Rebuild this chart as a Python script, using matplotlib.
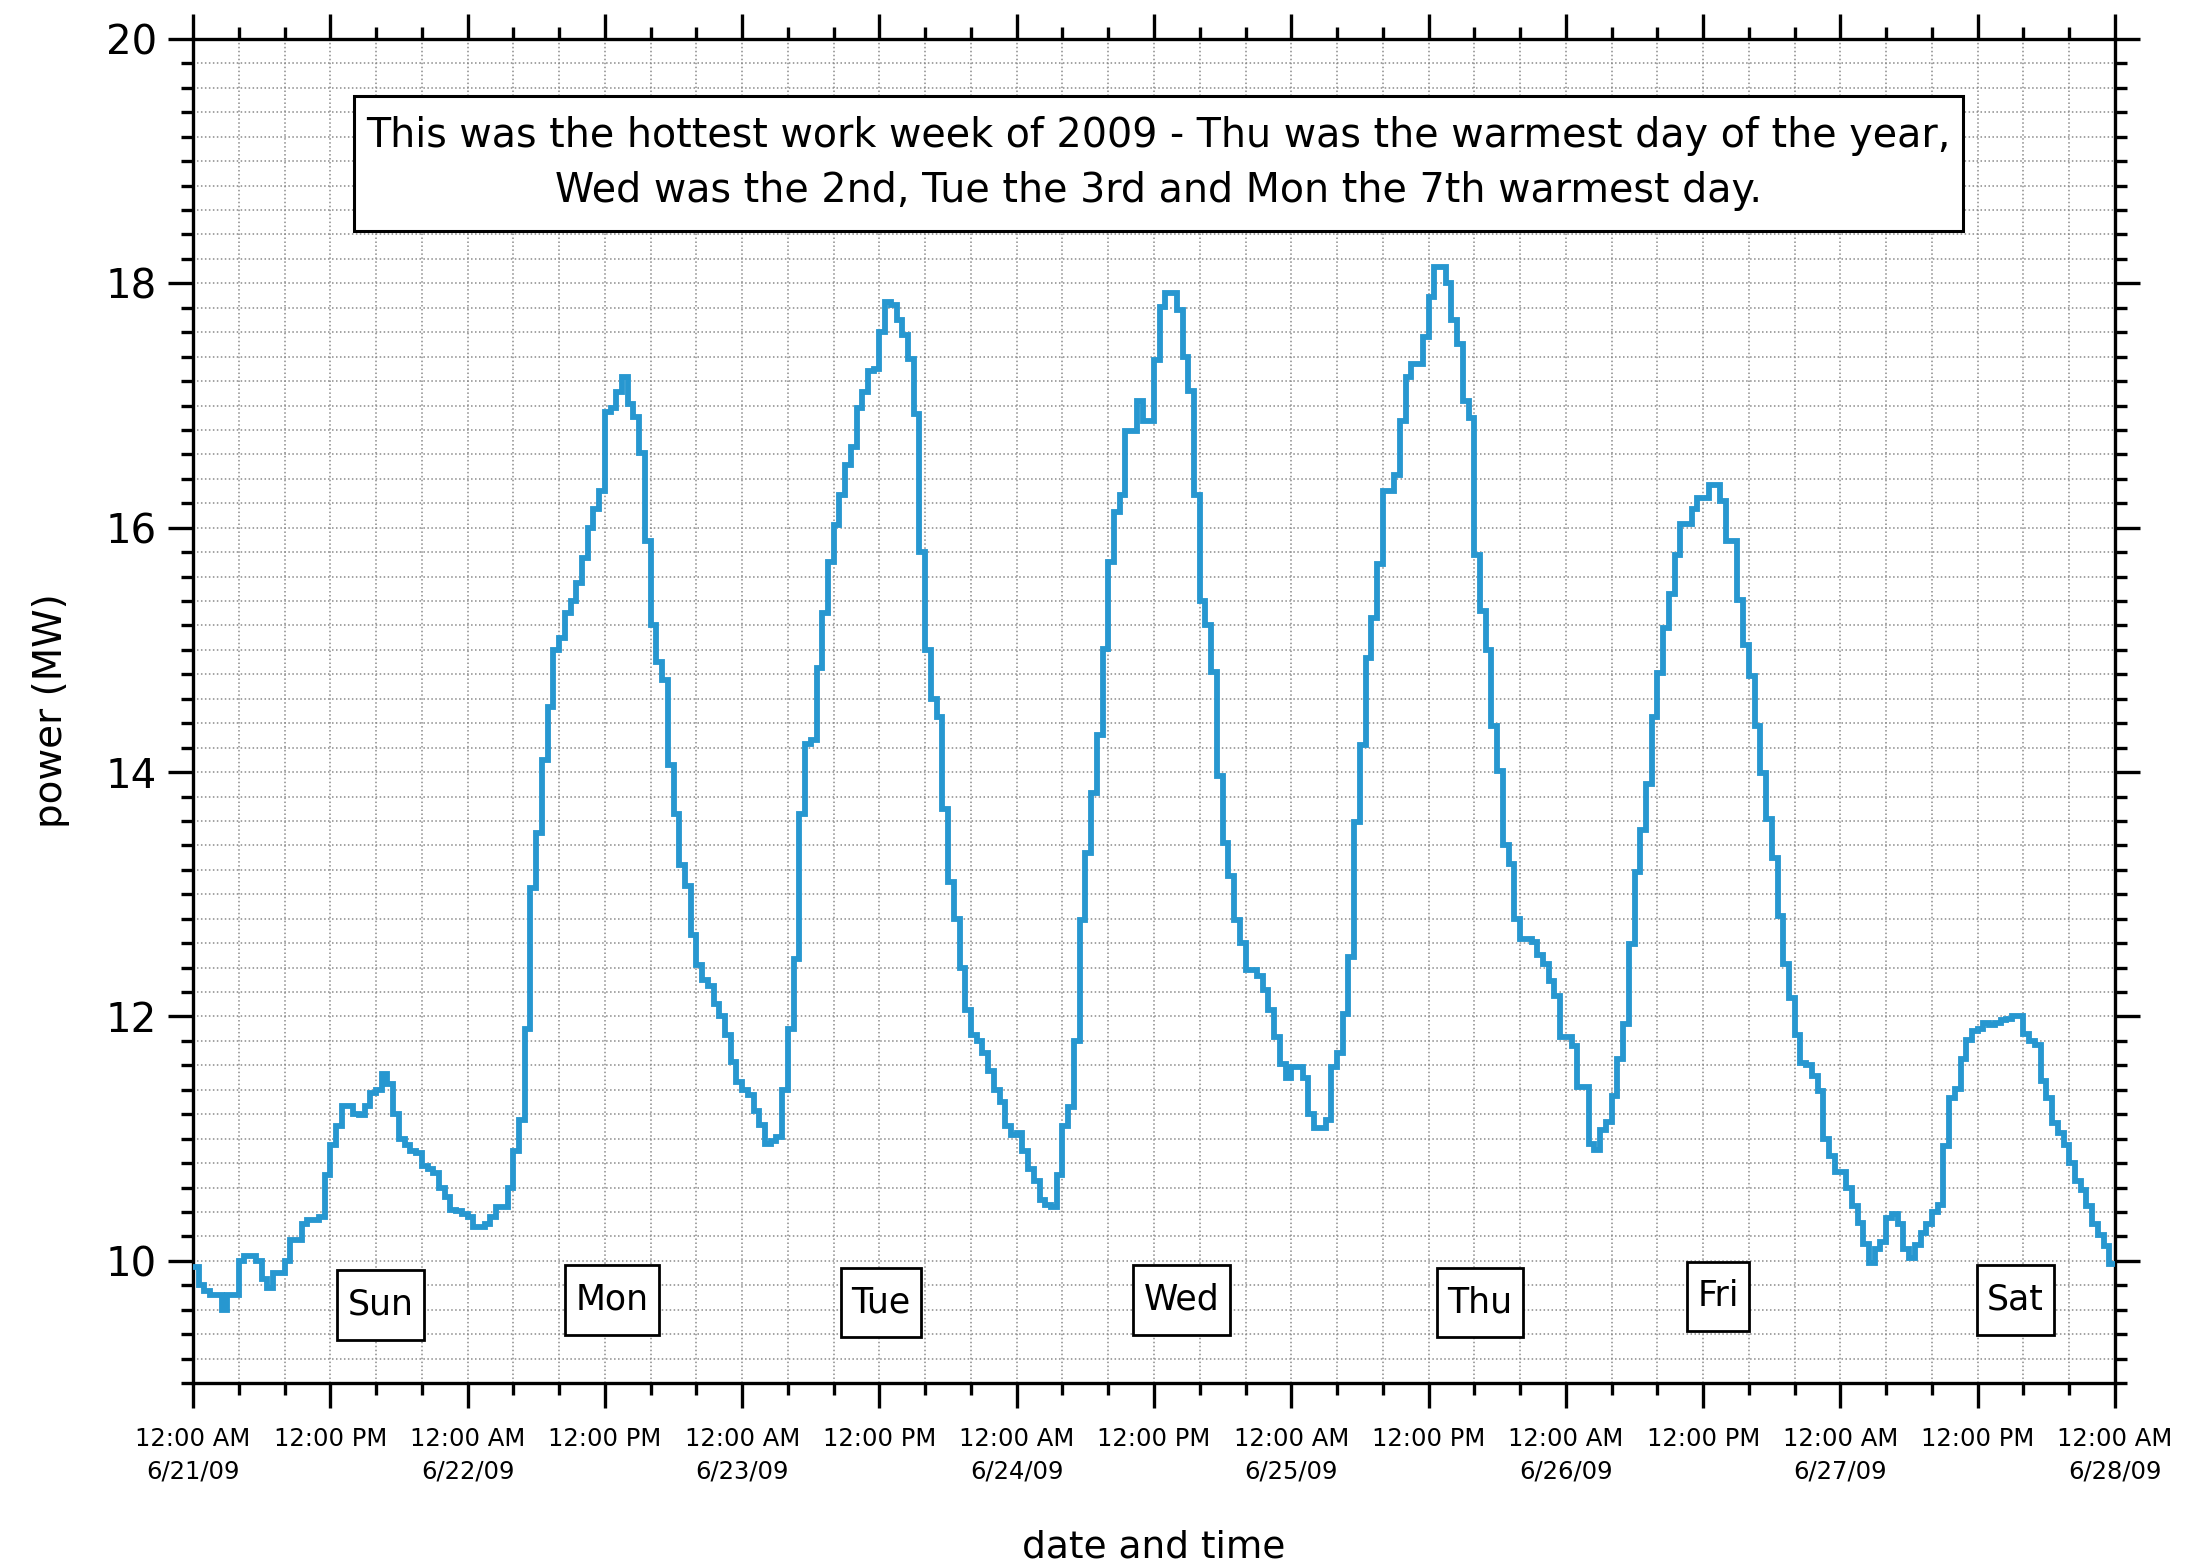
import numpy as np
import matplotlib
matplotlib.use("Agg")
import matplotlib.pyplot as plt
from matplotlib.ticker import MultipleLocator, FixedLocator, FixedFormatter

# ---------------- data (half-hourly power, MW) ----------------
power_sun = [9.95, 9.8, 9.75, 9.72, 9.72, 9.6, 9.72, 9.72,
             10.0, 10.04, 10.04, 10.0, 9.85, 9.78, 9.9, 9.9,
             10.0, 10.17, 10.17, 10.3, 10.33, 10.33, 10.36, 10.7,
             10.95, 11.1, 11.27, 11.27, 11.2, 11.19, 11.27, 11.37,
             11.4, 11.53, 11.45, 11.2, 11.0, 10.95, 10.9, 10.88,
             10.78, 10.75, 10.72, 10.6, 10.52, 10.42, 10.41, 10.38]
power_mon = [10.36, 10.28, 10.28, 10.3, 10.36, 10.44, 10.44, 10.6,
             10.9, 11.15, 11.9, 13.05, 13.5, 14.1, 14.53, 15.0,
             15.1, 15.3, 15.4, 15.55, 15.75, 16.0, 16.15, 16.3,
             16.95, 16.98, 17.11, 17.23, 17.01, 16.91, 16.61, 15.89,
             15.2, 14.9, 14.75, 14.06, 13.66, 13.24, 13.07, 12.67,
             12.42, 12.3, 12.25, 12.1, 12.0, 11.85, 11.63, 11.46]
power_tue = [11.4, 11.36, 11.23, 11.11, 10.96, 10.98, 11.01, 11.4,
             11.9, 12.47, 13.66, 14.23, 14.26, 14.85, 15.3, 15.72,
             16.02, 16.27, 16.51, 16.66, 16.98, 17.11, 17.28, 17.3,
             17.6, 17.85, 17.82, 17.7, 17.58, 17.38, 16.93, 15.8,
             15.0, 14.6, 14.45, 13.7, 13.1, 12.8, 12.4, 12.05,
             11.85, 11.8, 11.7, 11.55, 11.4, 11.3, 11.1, 11.03]
power_wed = [11.05, 10.9, 10.75, 10.65, 10.5, 10.46, 10.44, 10.7,
             11.1, 11.26, 11.8, 12.79, 13.34, 13.83, 14.3, 15.01,
             15.72, 16.13, 16.27, 16.79, 16.79, 17.04, 16.87, 16.87,
             17.37, 17.81, 17.92, 17.92, 17.78, 17.4, 17.12, 16.27,
             15.4, 15.2, 14.82, 13.97, 13.42, 13.15, 12.79, 12.6,
             12.38, 12.38, 12.33, 12.22, 12.05, 11.83, 11.61, 11.5]
power_thu = [11.59, 11.59, 11.5, 11.2, 11.09, 11.09, 11.15, 11.59,
             11.7, 12.02, 12.49, 13.59, 14.22, 14.93, 15.26, 15.7,
             16.3, 16.3, 16.43, 16.87, 17.23, 17.34, 17.34, 17.56,
             17.89, 18.13, 18.13, 18.0, 17.7, 17.5, 17.04, 16.9,
             15.78, 15.32, 15.0, 14.38, 14.01, 13.4, 13.25, 12.8,
             12.63, 12.63, 12.61, 12.5, 12.43, 12.29, 12.17, 11.83]
power_fri = [11.83, 11.76, 11.42, 11.42, 10.96, 10.91, 11.07, 11.14,
             11.35, 11.65, 11.94, 12.59, 13.18, 13.53, 13.9, 14.45,
             14.81, 15.18, 15.46, 15.78, 16.03, 16.03, 16.15, 16.24,
             16.24, 16.35, 16.35, 16.22, 15.89, 15.89, 15.41, 15.04,
             14.79, 14.38, 13.99, 13.62, 13.3, 12.82, 12.43, 12.15,
             11.85, 11.62, 11.6, 11.51, 11.39, 11.0, 10.86, 10.73]
power_sat = [10.73, 10.6, 10.45, 10.31, 10.14, 9.98, 10.1, 10.15,
             10.35, 10.38, 10.3, 10.1, 10.02, 10.13, 10.23, 10.3,
             10.4, 10.46, 10.94, 11.33, 11.41, 11.65, 11.81, 11.88,
             11.9, 11.95, 11.93, 11.95, 11.97, 11.98, 12.0, 12.0,
             11.86, 11.8, 11.77, 11.47, 11.33, 11.13, 11.05, 10.95,
             10.8, 10.65, 10.58, 10.45, 10.3, 10.21, 10.12, 9.97]
step_hours = 0.5  # sampling interval of the readings

# tick labels (every 12 h from 6/21/09 00:00)
x_tick_labels = ["12:00 AM\n6/21/09", "12:00 PM", "12:00 AM\n6/22/09", "12:00 PM",
                 "12:00 AM\n6/23/09", "12:00 PM", "12:00 AM\n6/24/09", "12:00 PM",
                 "12:00 AM\n6/25/09", "12:00 PM", "12:00 AM\n6/26/09", "12:00 PM",
                 "12:00 AM\n6/27/09", "12:00 PM", "12:00 AM\n6/28/09"]
y_ticks = [10, 12, 14, 16, 18, 20]

# day labels
day_names = ["Sun", "Mon", "Tue", "Wed", "Thu", "Fri", "Sat"]
day_label_hours = [16.4, 36.6, 60.1, 86.4, 112.5, 133.3, 159.3]
day_label_values = [9.64, 9.68, 9.66, 9.68, 9.66, 9.71, 9.68]

note_text = ("This was the hottest work week of 2009 - Thu was the warmest day of the year,\n"
             "Wed was the 2nd, Tue the 3rd and Mon the 7th warmest day.")
note_hour, note_value = 84.4, 18.98

# ---------------- build ----------------
power = np.concatenate([power_sun, power_mon, power_tue, power_wed,
                        power_thu, power_fri, power_sat])
hours = np.arange(len(power)) * step_hours
hours_plot = np.append(hours, hours[-1] + step_hours)
power_plot = np.append(power, power[-1])

line_color = "#2797d0"

fig = plt.figure(figsize=(21.95, 15.66), dpi=100)
ax = fig.add_axes([193 / 2195, 1 - 1383 / 1566, (2115 - 193) / 2195, (1383 - 39) / 1566])

ax.plot(hours_plot, power_plot, drawstyle="steps-post", color=line_color,
        lw=4.2, solid_joinstyle="miter", zorder=3)

ax.set_xlim(0, 168)
ax.set_ylim(9, 20)

ax.xaxis.set_major_locator(FixedLocator(np.arange(0, 169, 12)))
ax.xaxis.set_major_formatter(FixedFormatter(x_tick_labels))
ax.xaxis.set_minor_locator(MultipleLocator(4))
ax.yaxis.set_major_locator(FixedLocator(y_ticks))
ax.yaxis.set_minor_locator(MultipleLocator(0.2))

ax.grid(which="both", linestyle=(0, (1, 1.6)), color="#8a8a8a", linewidth=1.1, zorder=0)
ax.set_axisbelow(True)

for s in ax.spines.values():
    s.set_linewidth(2.4)

ax.tick_params(which="both", direction="out", top=True, right=True, width=2.4)
ax.tick_params(which="major", length=18)
ax.tick_params(which="minor", length=8.5)
ax.tick_params(axis="x", which="major", labelsize=17.5, pad=14)
ax.tick_params(axis="y", which="major", labelsize=29, pad=8)

for lab in ax.get_xticklabels():
    lab.set_linespacing(1.45)
    lab.set_verticalalignment("top")

ax.set_ylabel("power (MW)", fontsize=28, labelpad=26)
ax.set_xlabel("date and time", fontsize=27, labelpad=33)

ax.text(note_hour, note_value, note_text, fontsize=28.5, ha="center", va="center",
        linespacing=1.5, zorder=5,
        bbox=dict(boxstyle="square,pad=0.31", fc="white", ec="black", lw=2.2,
                  mutation_aspect=1.6))

for name, h, v in zip(day_names, day_label_hours, day_label_values):
    ax.text(h, v, name, fontsize=25, ha="center", va="center", zorder=5,
            bbox=dict(boxstyle="square,pad=0.3", fc="white", ec="black", lw=2.0,
                      mutation_aspect=1.7))

fig.savefig("out.png", dpi=100, facecolor="white")
